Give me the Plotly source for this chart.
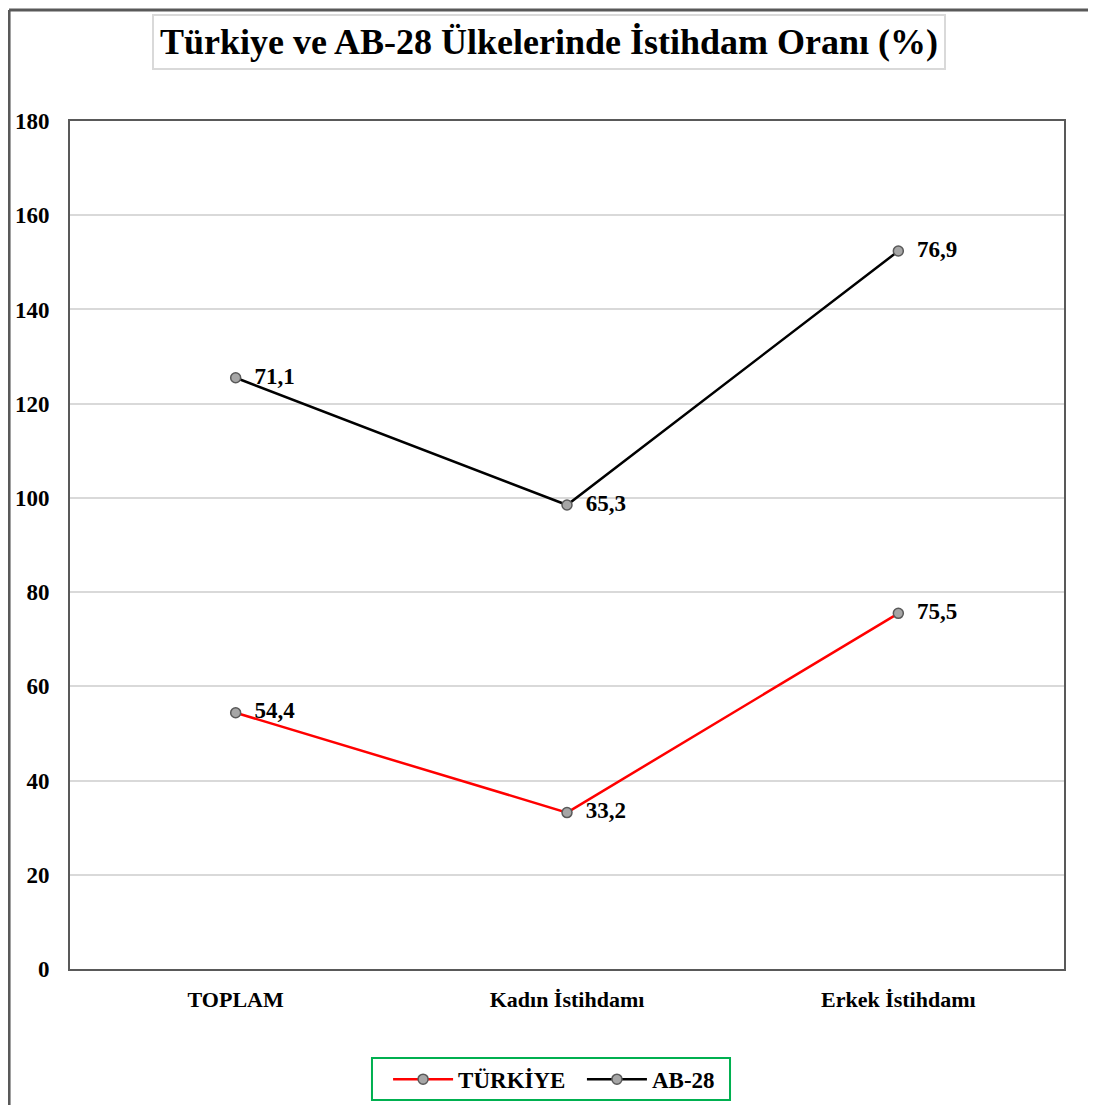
import plotly.graph_objects as go

categories = ["TOPLAM", "Kadın İstihdamı", "Erkek İstihdamı"]
turkiye = [54.4, 33.2, 75.5]
ab28 = [71.1, 65.3, 76.9]
y_ticks = [0, 20, 40, 60, 80, 100, 120, 140, 160, 180]

def fmt(v):
    return f"{v:.1f}".replace(".", ",")

# Stacked line chart (as in the original): AB-28 plotted on top of TÜRKİYE
ab28_stacked = [t + a for t, a in zip(turkiye, ab28)]

FONT = "Liberation Serif"
marker = dict(size=10, color="#a6a6a6", line=dict(color="#595959", width=1.5))

fig = go.Figure()
fig.add_trace(go.Scatter(
    x=categories, y=turkiye, name="TÜRKİYE\u00a0\u00a0", mode="lines+markers+text",
    line=dict(color="#ff0000", width=2.5), marker=marker,
    text=["  " + fmt(v) for v in turkiye], textposition="middle right",
    textfont=dict(family=FONT, size=23, color="black", weight="bold"),
    cliponaxis=False,
))
fig.add_trace(go.Scatter(
    x=categories, y=ab28_stacked, name="AB-28", mode="lines+markers+text",
    line=dict(color="#000000", width=2.5), marker=marker,
    text=["  " + fmt(v) for v in ab28], textposition="middle right",
    textfont=dict(family=FONT, size=23, color="black", weight="bold"),
    cliponaxis=False,
))

fig.update_layout(
    width=1088, height=1097,
    margin=dict(l=62, r=32, t=113, b=136, autoexpand=False),
    paper_bgcolor="white", plot_bgcolor="white",
    font=dict(family=FONT, color="black"),
    showlegend=True,
    legend=dict(
        orientation="h", x=0.487, y=-0.13, xanchor="center", yanchor="middle",
        borderwidth=0, bgcolor="rgba(0,0,0,0)",
        font=dict(family=FONT, size=23, color="black", weight="bold"),
        itemwidth=60, tracegroupgap=0,
    ),
    xaxis=dict(
        type="category", range=[-0.5, 2.5], showgrid=False, automargin=False,
        showline=True, linecolor="#595959", linewidth=2, mirror=True,
        ticks="", ticklabelstandoff=10,
        tickfont=dict(family=FONT, size=22, color="black", weight="bold"),
    ),
    yaxis=dict(
        range=[0, 180], tickvals=y_ticks, showgrid=True, gridcolor="#d9d9d9", gridwidth=1.5,
        showline=True, linecolor="#595959", linewidth=2, mirror=True, automargin=False,
        ticks="", ticklabelstandoff=14, zeroline=False,
        tickfont=dict(family=FONT, size=23, color="black", weight="bold"),
    ),
    annotations=[dict(
        text="Türkiye ve AB-28 Ülkelerinde İstihdam Oranı (%)",
        xref="paper", yref="paper", x=0.482, y=1.093, xanchor="center", yanchor="middle",
        showarrow=False, bordercolor="#d9d9d9", borderwidth=2, borderpad=6, bgcolor="white",
        font=dict(family=FONT, size=36, color="black", weight="bold"),
    )],
    shapes=[
        dict(type="line", xref="paper", yref="paper", x0=-0.0613, x1=-0.0613, y0=1.131, y1=-0.2,
             line=dict(color="#595959", width=3)),
        dict(type="line", xref="paper", yref="paper", x0=-0.0613, x1=1.028, y0=1.131, y1=1.131,
             line=dict(color="#595959", width=3)),
        dict(type="line", xref="paper", yref="paper", x0=1.028, x1=1.028, y0=1.131, y1=-0.2,
             line=dict(color="#595959", width=3)),
        dict(type="rect", xref="paper", yref="paper", x0=0.3038, x1=0.664, y0=-0.105, y1=-0.1545,
             line=dict(color="#00b050", width=2), layer="below"),
    ],
)

fig.write_html("out.html")
